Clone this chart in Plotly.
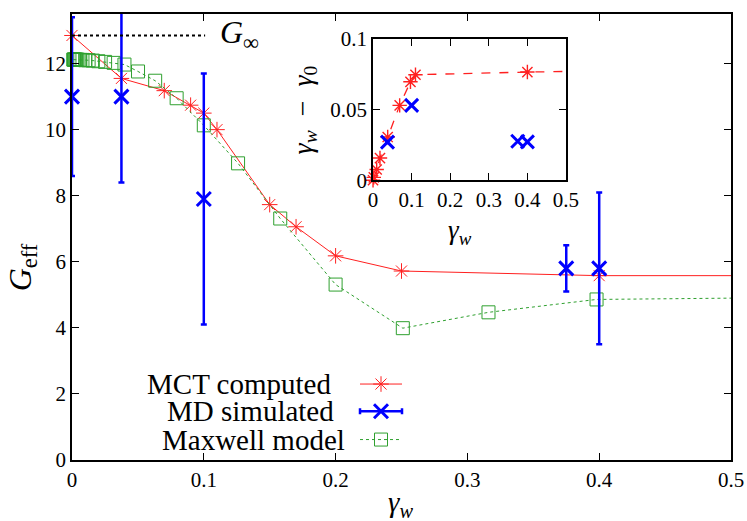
import plotly.graph_objects as go

# main panel: MCT computed G_eff vs gamma_w (last point lies past the axis end)
mct_x = [0, 0.0375, 0.07, 0.09, 0.1, 0.11, 0.15, 0.17, 0.2, 0.25, 0.4, 0.6]
mct_y = [12.85, 11.55, 11.18, 10.74, 10.5, 10.0, 7.73, 7.06, 6.18, 5.72, 5.58, 5.58]

# MD simulated with error bars
md_x = [0, 0.0375, 0.1, 0.375, 0.4]
md_y = [11.0, 11.0, 7.9, 5.8, 5.8]
md_err = [2.4, 2.6, 3.8, 0.7, 2.3]

# Maxwell model
mx_x = [0.001, 0.00126, 0.00158, 0.002, 0.00251, 0.00316, 0.00398, 0.00501, 0.00631,
        0.00794, 0.01, 0.0126, 0.0158, 0.02, 0.0251, 0.0316, 0.0398, 0.0501, 0.0631,
        0.0794, 0.1, 0.126, 0.158, 0.2, 0.251, 0.316, 0.398, 0.631]
mx_y = [12.12, 12.12, 12.12, 12.12, 12.12, 12.12, 12.12, 12.11, 12.11,
        12.11, 12.1, 12.1, 12.09, 12.07, 12.05, 12.02, 11.97, 11.76, 11.48,
        10.95, 10.13, 8.98, 7.31, 5.31, 3.99, 4.47, 4.86, 4.95]

g_inf = 12.85
g_inf_x = [0, 0.101]

# inset: gamma_w - gamma_0
in_mct_x = [0, 0.002, 0.0095, 0.018, 0.038, 0.069, 0.097, 0.11, 0.4, 0.6]
in_mct_y = [0, 0.002, 0.0076, 0.0157, 0.0306, 0.053, 0.0697, 0.0747, 0.0766, 0.0775]
in_md_x = [0.0375, 0.1, 0.375, 0.4]
in_md_y = [0.027, 0.053, 0.0276, 0.0272]

legend_names = ["MCT computed", "MD simulated", "Maxwell model"]

RED = "#ff2020"
BLUE = "#0000ff"
GREEN = "#2fa02f"
FONT = "Liberation Serif"

def star(size=13, width=1):
    return dict(symbol="asterisk-open", size=size, color=RED, line=dict(color=RED, width=width))

def cross(size=14):
    return dict(symbol="x-thin-open", size=size, color=BLUE, line=dict(color=BLUE, width=3))

def box(size=13):
    return dict(symbol="square-open", size=size, color=GREEN, line=dict(color=GREEN, width=1))

fig = go.Figure()

# main curves: lines (clipped at the axis) and markers separately
fig.add_trace(go.Scatter(x=mct_x, y=mct_y, mode="lines", line=dict(color=RED, width=1)))
fig.add_trace(go.Scatter(x=[v for v in mct_x if v <= 0.5], y=[mct_y[i] for i, v in enumerate(mct_x) if v <= 0.5],
                         mode="markers", cliponaxis=False, marker=star()))
fig.add_trace(go.Scatter(x=mx_x, y=mx_y, mode="lines", line=dict(color=GREEN, width=1, dash="dot")))
fig.add_trace(go.Scatter(x=[v for v in mx_x if v <= 0.5], y=[mx_y[i] for i, v in enumerate(mx_x) if v <= 0.5],
                         mode="markers", cliponaxis=False, marker=box()))
fig.add_trace(go.Scatter(x=md_x, y=md_y, mode="markers", cliponaxis=False, marker=cross(),
                         error_y=dict(type="data", array=md_err, color=BLUE, thickness=2.5, width=3)))
fig.add_trace(go.Scatter(x=g_inf_x, y=[g_inf, g_inf], mode="lines",
                         line=dict(color="black", width=2, dash="dot")))

# inset
fig.add_trace(go.Scatter(x=in_mct_x, y=in_mct_y, mode="lines", xaxis="x2", yaxis="y2",
                         line=dict(color=RED, width=1.3, dash="dash")))
fig.add_trace(go.Scatter(x=[v for v in in_mct_x if v <= 0.5], y=[in_mct_y[i] for i, v in enumerate(in_mct_x) if v <= 0.5],
                         mode="markers", xaxis="x2", yaxis="y2", cliponaxis=False, marker=star(12, 1.4)))
fig.add_trace(go.Scatter(x=in_md_x, y=in_md_y, mode="markers", xaxis="x2", yaxis="y2", cliponaxis=False,
                         marker=cross(13)))

# hand-made legend (key on the right of the text), on a pixel-scaled overlay axis
key_y = [382, 410, 439]
text_right = [333, 336, 347]
fig.add_trace(go.Scatter(x=[360, 402], y=[key_y[0]] * 2, mode="lines", xaxis="x3", yaxis="y3",
                         line=dict(color=RED, width=1)))
fig.add_trace(go.Scatter(x=[381], y=[key_y[0]], mode="markers", xaxis="x3", yaxis="y3", marker=star()))
fig.add_trace(go.Scatter(x=[381], y=[key_y[1]], mode="markers", xaxis="x3", yaxis="y3", marker=cross(),
                         error_x=dict(type="constant", value=21, color=BLUE, thickness=2.5, width=3)))
fig.add_trace(go.Scatter(x=[360, 402], y=[key_y[2]] * 2, mode="lines", xaxis="x3", yaxis="y3",
                         line=dict(color=GREEN, width=1, dash="dot")))
fig.add_trace(go.Scatter(x=[381], y=[key_y[2]], mode="markers", xaxis="x3", yaxis="y3", marker=box()))

axis_common = dict(showline=True, linecolor="black", linewidth=1.5, mirror="ticks",
                   ticks="inside", ticklen=7, tickcolor="black", showgrid=False, zeroline=False,
                   tickfont=dict(family=FONT, size=21, color="black"))

fig.update_layout(
    width=747, height=521,
    margin=dict(l=72, r=16, t=2, b=61),
    paper_bgcolor="white", plot_bgcolor="white",
    showlegend=False, hovermode=False,
    font=dict(family=FONT, color="black"),
    xaxis=dict(range=[0, 0.5], dtick=0.1, domain=[0, 1], anchor="y", **axis_common),
    yaxis=dict(range=[0, 13.5], dtick=2, domain=[0, 1], anchor="x", **axis_common),
    xaxis2=dict(range=[0, 0.5], dtick=0.1, domain=[0.4568, 0.7496], anchor="y2", **axis_common),
    yaxis2=dict(range=[0, 0.1], dtick=0.05, domain=[0.6273, 0.9439], anchor="x2", **axis_common),
    xaxis3=dict(range=[72, 731], overlaying="x", visible=False),
    yaxis3=dict(range=[460, 2], overlaying="y", visible=False),
)

ann = [
    dict(text="<i>G</i><sub>eff</sub>", x=-0.076, y=0.432, textangle=-90, font=dict(size=32)),
    dict(text="<i>γ<sub>w</sub></i>", x=0.498, y=-0.098, font=dict(size=29)),
    dict(text="<i>γ<sub>w</sub></i>", x=0.589, y=0.512, font=dict(size=27)),
    dict(text="<i>γ<sub>w</sub></i>  −  <i>γ</i><sub>0</sub>", x=0.352, y=0.786, textangle=-90,
         font=dict(size=28)),
    dict(text="<i>G</i><sub>∞</sub>", x=0.2215, y=0.955, xanchor="left", font=dict(size=32)),
]
for i, name in enumerate(legend_names):
    ann.append(dict(text=name, x=(text_right[i] - 72) / 659, y=(460 - key_y[i]) / 458, xanchor="right",
                    font=dict(size=29)))
for a in ann:
    a.setdefault("xanchor", "center")
    a["font"].update(family=FONT, color="black")
    fig.add_annotation(xref="paper", yref="paper", showarrow=False, yanchor="middle", **a)

fig.write_html("out.html", config={"displayModeBar": False},
               post_script="document.body.style.margin='0';document.body.style.overflow='hidden';")
